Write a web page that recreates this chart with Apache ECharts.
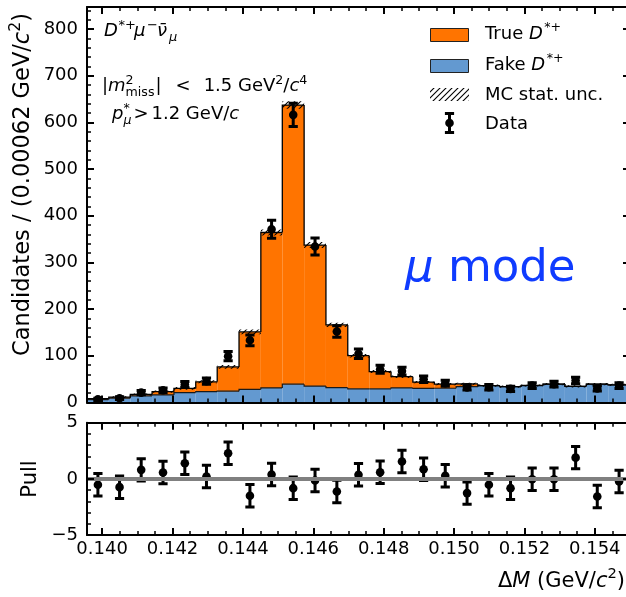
<!DOCTYPE html>
<html><head><meta charset="utf-8">
<script src="https://cdn.jsdelivr.net/npm/echarts@6/dist/echarts.min.js"></script>
<style>html,body{margin:0;padding:0;background:#fff}#c{width:626px;height:597px}</style>
</head><body><div id="c"></div>
<script>
// ---------------- data ----------------
const binEdges = [0.13957,0.14019,0.14080,0.14142,0.14204,0.14266,0.14327,0.14389,0.14451,0.14512,
                  0.14574,0.14636,0.14698,0.14759,0.14821,0.14883,0.14944,0.15006,0.15068,0.15130,
                  0.15191,0.15253,0.15315,0.15376,0.15438,0.15500];
const fakeVals = [6,9,14,16,21,23,24,28,31,39,35,31.5,29,29,31,30,30.3,34,35.8,33.6,36.2,39.2,34.5,39,37.5];
const trueVals = [2,2.2,3,7,9,21,52,123,333,598,302,134.5,71,37,24,13.5,9,5.5,0,0,0,0,0,0,0];
const mcUnc    = [1.5,1.8,2.2,2.5,2.8,3.2,4.0,5.0,6.5,8.0,6.5,4.5,3.8,3.2,2.8,2.6,2.5,2.5,2.4,2.4,2.4,2.5,2.4,2.5,2.5];
const dataVals = [6.5,9,21,26,38.7,45.5,99,133,371,616,334,152,104,71,67,49.5,41,32,32.5,29,36,39,47,30,36];
const dataErr  = [2.5,3.0,4.6,5.1,6.2,6.7,9.9,11.5,19.3,24.8,18.3,12.3,10.2,8.4,8.2,7.0,6.4,5.7,5.7,5.4,6.0,6.2,6.9,5.5,6.0];
const pullVals = [-0.53,-0.74,0.8,0.56,1.39,0.2,2.28,-1.5,0.38,-0.83,-0.15,-1.12,0.36,0.59,1.54,0.86,0.27,-1.27,-0.53,-0.83,-0.03,-0.03,1.89,-1.57,-0.24];
const pullErr  = [1,1,1,1,1,1,1,1,1,1,1,1,1,1,1,1,1,1,1,1,1,1,1,1,1];

const xMajorTicks = [0.140,0.142,0.144,0.146,0.148,0.150,0.152,0.154];
const xMinorTicks = [0.1405,0.1410,0.1415,0.1425,0.1430,0.1435,0.1445,0.1450,0.1455,0.1465,0.1470,0.1475,
                     0.1485,0.1490,0.1495,0.1505,0.1510,0.1515,0.1525,0.1530,0.1535,0.1545];
const yMajorTicks = [0,100,200,300,400,500,600,700,800];
const yMinorTicks = [20,40,60,80,120,140,160,180,220,240,260,280,320,340,360,380,420,440,460,480,
                     520,540,560,580,620,640,660,680,720,740,760,780,820,840];
const pullMajorTicks = [-5,0,5];
const pullMinorTicks = [-4,-3,-2,-1,1,2,3,4];
const yMax = 847;

// ---------------- style ----------------
const ORANGE = '#ff7400', BLUE = '#6399d0', MODEBLUE = '#0f3bff';
const FF = 'DejaVu Sans';
const W = 626;
const G0 = {left:87, top:7, width:543, height:395.4};
const G1 = {left:87, top:422.7, width:543, height:112.3};

// hatch pattern
function hatchCanvas(){
  const c=document.createElement('canvas'); c.width=6; c.height=6;
  const g=c.getContext('2d'); g.strokeStyle='#000'; g.lineWidth=1.1; g.beginPath();
  g.moveTo(-1,7); g.lineTo(7,-1); g.moveTo(-1,1); g.lineTo(1,-1); g.moveTo(5,7); g.lineTo(7,5); g.stroke();
  return c;
}
const HATCH = {image: hatchCanvas(), repeat:'repeat'};

// text helpers
const mctx = document.createElement('canvas').getContext('2d');
function tw(t,s,it){ mctx.font=(it?'italic ':'')+s+'px "'+FF+'"'; return mctx.measureText(t).width; }
const BL = 0.32;
function layout(pieces){ let x=0; const out=[]; for(const p of pieces){ if(p.ax!==undefined) x=p.ax; x+=p.dx||0; out.push(Object.assign({},p,{x})); if(!p.na) x+=tw(p.t,p.s,p.it);} return {items:out,width:x}; }
function mathGroup(x,y,pieces,opt){
  opt=opt||{}; const L=layout(pieces); const align=opt.align||'left';
  const off = align==='right'?-L.width:align==='center'?-L.width/2:0;
  return {type:'group', x, y, rotation:opt.rotation||0, silent:true, z:20,
    children:L.items.map(p=>({type:'text', x:p.x+off, y:(p.dy||0)-BL*p.s,
      style:{text:p.t, fontSize:p.s, fontFamily:FF, fontStyle:p.it?'italic':'normal', fill:opt.color||'#000', align:'left', verticalAlign:'middle'}}))};
}

// ---------------- axes ----------------
const xMin = binEdges[0], xMax = binEdges[binEdges.length-1];
function xAx(grid,pos,ticks,len,line,labels){
  return {type:'value', gridIndex:grid, position:pos, min:xMin, max:xMax, z:10,
    axisLine:{show:line, onZero:false, lineStyle:{color:'#000', width:2}},
    splitLine:{show:false},
    axisTick:{show:true, inside:true, length:len, customValues:ticks, lineStyle:{color:'#000', width:len>5?2:1.5}},
    axisLabel: labels ? {show:true, customValues:ticks, margin:5, fontSize:18, fontFamily:FF, color:'#000', formatter:v=>v.toFixed(3)} : {show:false}};
}
function yAx(grid,pos,mn,mx,ticks,len,line,labels,fmt){
  return {type:'value', gridIndex:grid, position:pos, min:mn, max:mx, z:10,
    axisLine:{show:line, onZero:false, lineStyle:{color:'#000', width:2}},
    splitLine:{show:false},
    axisTick:{show:true, inside:true, length:len, customValues:ticks, lineStyle:{color:'#000', width:len>5?2:1.5}},
    axisLabel: labels ? {show:true, customValues:ticks, margin:9, fontSize:18, fontFamily:FF, color:'#000', formatter:fmt} : {show:false}};
}
const minusFmt = v => v<0 ? '\u2212'+Math.abs(v) : String(v);

const xAxis = [
  xAx(0,'bottom',xMajorTicks,7,true,false), xAx(0,'bottom',xMinorTicks,4,false,false),
  xAx(0,'top',xMajorTicks,7,true,false),    xAx(0,'top',xMinorTicks,4,false,false),
  xAx(1,'bottom',xMajorTicks,7,true,true),  xAx(1,'bottom',xMinorTicks,4,false,false),
  xAx(1,'top',xMajorTicks,7,true,false),    xAx(1,'top',xMinorTicks,4,false,false)
];
const yAxis = [
  yAx(0,'left',0,yMax,yMajorTicks,7,true,true,v=>String(v)), yAx(0,'left',0,yMax,yMinorTicks,4,false,false),
  yAx(0,'right',0,yMax,yMajorTicks,7,true,false),           yAx(0,'right',0,yMax,yMinorTicks,4,false,false),
  yAx(1,'left',-5,5,pullMajorTicks,7,true,true,minusFmt),    yAx(1,'left',-5,5,pullMinorTicks,4,false,false),
  yAx(1,'right',-5,5,pullMajorTicks,7,true,false),           yAx(1,'right',-5,5,pullMinorTicks,4,false,false)
];

// ---------------- series data ----------------
const histData = fakeVals.map((f,i)=>[binEdges[i], binEdges[i+1], f, trueVals[i], mcUnc[i]]);
const centers = fakeVals.map((f,i)=>(binEdges[i]+binEdges[i+1])/2);
const pointData = dataVals.map((v,i)=>[centers[i], v, dataErr[i]]);
const pullData = pullVals.map((v,i)=>[centers[i], v, pullErr[i]]);

function renderHist(params, api){
  const i=params.dataIndex;
  const x0=api.value(0), x1=api.value(1), f=api.value(2), t=api.value(3);
  const pf=api.coord([x0,f]), pt=api.coord([x0,f+t]), p0=api.coord([x0,0]), p1=api.coord([x1,0]);
  const prevF = i>0 ? fakeVals[i-1] : 0, prevT = i>0 ? fakeVals[i-1]+trueVals[i-1] : 0;
  const ppf=api.coord([x0,prevF]), ppt=api.coord([x0,prevT]);
  const w=p1[0]-p0[0];
  const ch=[
    {type:'rect', shape:{x:p0[0], y:pf[1], width:w, height:p0[1]-pf[1]}, style:{fill:BLUE}},
    {type:'polyline', shape:{points:[[p0[0],ppf[1]],[p0[0],pf[1]],[p1[0],pf[1]]]}, style:{stroke:'#1a1a1a', lineWidth:1.2, fill:null}}
  ];
  if (t>0 || prevT>prevF) {
    ch.splice(1,0,{type:'rect', shape:{x:p0[0], y:pt[1], width:w, height:pf[1]-pt[1]}, style:{fill:ORANGE}});
  }
  ch.push({type:'polyline', shape:{points:[[p0[0],ppt[1]],[p0[0],pt[1]],[p1[0],pt[1]]]}, style:{stroke:'#000', lineWidth:1.3, fill:null}});
  return {type:'group', children:ch};
}
function renderUnc(params, api){
  const x0=api.value(0), x1=api.value(1), tot=api.value(2)+api.value(3), u=api.value(4);
  const a=api.coord([x0,tot+u]), b=api.coord([x1,tot-u]);
  return {type:'rect', shape:{x:a[0], y:a[1], width:b[0]-a[0], height:b[1]-a[1]}, style:{fill:HATCH}};
}
function renderErr(params, api){
  const xc=api.value(0), v=api.value(1), e=api.value(2);
  const p=api.coord([xc,v]), top=api.coord([xc,v+e]), bot=api.coord([xc,v-e]);
  const cw=4.6, st={stroke:'#000', lineWidth:3};
  return {type:'group', children:[
    {type:'line', shape:{x1:p[0],y1:top[1],x2:p[0],y2:bot[1]}, style:st},
    {type:'line', shape:{x1:p[0]-cw,y1:top[1],x2:p[0]+cw,y2:top[1]}, style:st},
    {type:'line', shape:{x1:p[0]-cw,y1:bot[1],x2:p[0]+cw,y2:bot[1]}, style:st},
    {type:'circle', shape:{cx:p[0],cy:p[1],r:4.3}, style:{fill:'#000'}}
  ]};
}

const series = [
  {type:'custom', name:'MC', xAxisIndex:0, yAxisIndex:0, data:histData, renderItem:renderHist, clip:true, z:2, silent:true, encode:{x:[0,1], y:2}},
  {type:'custom', name:'MC stat. unc.', xAxisIndex:0, yAxisIndex:0, data:histData, renderItem:renderUnc, clip:true, z:3, silent:true, encode:{x:[0,1], y:2}},
  {type:'custom', name:'Data', xAxisIndex:0, yAxisIndex:0, data:pointData, renderItem:renderErr, clip:true, z:4, silent:true, encode:{x:0, y:1}},
  {type:'line', name:'zero', xAxisIndex:4, yAxisIndex:4, data:[], z:1, silent:true,
    markLine:{silent:true, symbol:'none', label:{show:false}, data:[{yAxis:0}], lineStyle:{color:'#808080', width:4, type:'solid'}}},
  {type:'custom', name:'Pull', xAxisIndex:4, yAxisIndex:4, data:pullData, renderItem:renderErr, clip:true, z:4, silent:true, encode:{x:0, y:1}}
];

// ---------------- annotations ----------------
const gfx = [];
// legend
gfx.push({type:'rect', shape:{x:430.5, y:28.5, width:38, height:13}, style:{fill:ORANGE, stroke:'#222', lineWidth:1}, z:20});
gfx.push({type:'rect', shape:{x:430.5, y:59.5, width:38, height:13}, style:{fill:BLUE, stroke:'#222', lineWidth:1}, z:20});
gfx.push({type:'rect', shape:{x:430, y:88, width:39, height:13}, style:{fill:HATCH}, z:20});
gfx.push({type:'line', shape:{x1:449.5,y1:113.5,x2:449.5,y2:132.5}, style:{stroke:'#000', lineWidth:3}, z:20});
gfx.push({type:'line', shape:{x1:444.9,y1:113.5,x2:454.1,y2:113.5}, style:{stroke:'#000', lineWidth:3}, z:20});
gfx.push({type:'line', shape:{x1:444.9,y1:132.5,x2:454.1,y2:132.5}, style:{stroke:'#000', lineWidth:3}, z:20});
gfx.push({type:'circle', shape:{cx:449.5, cy:123, r:4.3}, style:{fill:'#000'}, z:20});
const LS=18, SS=12.6;
gfx.push(mathGroup(485,40,[{t:'True ',s:LS},{t:'D',s:LS,it:true},{t:'*+',s:SS,dy:-8,dx:1.5}]));
gfx.push(mathGroup(485,71,[{t:'Fake ',s:LS},{t:'D',s:LS,it:true},{t:'*+',s:SS,dy:-8,dx:1.5}]));
gfx.push(mathGroup(485,101.5,[{t:'MC stat. unc.',s:LS}]));
gfx.push(mathGroup(485,130,[{t:'Data',s:LS}]));
// selection text
const AS=18, AB=13;
gfx.push(mathGroup(104,37,[{t:'D',s:AS,it:true},{t:'*+',s:AB,dy:-7.5,ax:14.5},{t:'\u03bc',s:AS,it:true,ax:30},{t:'\u2212',s:AB,dy:-7.5,ax:43},
  {t:'\u03bd\u0304',s:AS,it:true,ax:53},{t:'\u03bc',s:AB,it:true,dy:4.5,ax:65}]));
gfx.push(mathGroup(102,92.5,[{t:'|',s:18},{t:'m',s:18,it:true},{t:'2',s:SS,dy:-8,na:true},{t:'miss',s:SS,dy:4.5},{t:'|',s:18,dx:1},
  {t:'<',s:18,dx:14},{t:'1.5 GeV',s:18,dx:13},{t:'2',s:SS,dy:-8},{t:'/',s:18},{t:'c',s:18,it:true},{t:'4',s:SS,dy:-8}]));
gfx.push(mathGroup(112,120.5,[{t:'p',s:18,it:true},{t:'*',s:SS,dy:-8,na:true},{t:'\u03bc',s:SS,it:true,dy:4.5},
  {t:'>',s:18,dx:2},{t:'1.2 GeV/',s:18,dx:3},{t:'c',s:18,it:true}]));
// mode label
gfx.push(mathGroup(405,283.5,[{t:'\u03bc',s:45,it:true},{t:' mode',s:45}],{color:MODEBLUE}));
// axis titles
gfx.push(mathGroup(30.5,184.5,[{t:'Candidates / (0.00062 GeV/',s:22.5},{t:'c',s:22.5,it:true},{t:'2',s:15.7,dy:-10},{t:')',s:22.5}],{align:'center',rotation:Math.PI/2}));
gfx.push(mathGroup(37.5,479,[{t:'Pull',s:21}],{align:'center',rotation:Math.PI/2}));
gfx.push(mathGroup(625,588,[{t:'\u0394',s:21},{t:'M',s:21,it:true},{t:' (GeV/',s:21},{t:'c',s:21,it:true},{t:'2',s:14.7,dy:-9.5},{t:')',s:21}],{align:'right'}));

const chart = echarts.init(document.getElementById('c'), null, {renderer:'canvas', width:W, height:597});
chart.setOption({
  animation:false,
  backgroundColor:'#fff',
  grid:[Object.assign({containLabel:false, outerBoundsMode:'none'},G0), Object.assign({containLabel:false, outerBoundsMode:'none'},G1)],
  xAxis, yAxis, series,
  graphic:{elements:gfx}
});
</script></body></html>
